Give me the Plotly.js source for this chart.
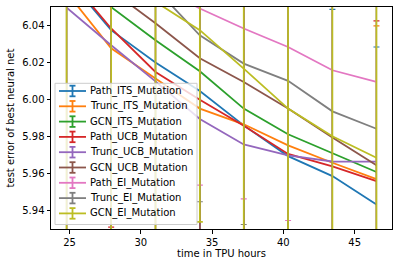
<!DOCTYPE html>
<html>
<head>
<meta charset="utf-8">
<script src="https://cdn.plot.ly/plotly-3.0.1.min.js"></script>
<style>html,body{margin:0;padding:0;background:#fff;}#chart{width:399px;height:267px;}</style>
</head>
<body>
<div id="chart"></div>
<script>
// ---- data ----
const hours = [24.79, 27.92, 31.03, 34.14, 37.22, 40.33, 43.44, 46.53];
const seriesNames = ["Path_ITS_Mutation", "Trunc_ITS_Mutation", "GCN_ITS_Mutation",
  "Path_UCB_Mutation", "Trunc_UCB_Mutation", "GCN_UCB_Mutation",
  "Path_EI_Mutation", "Trunc_EI_Mutation", "GCN_EI_Mutation"];
const pathITS  = [6.066, 6.0375, 6.0200, 6.0046, 5.9860, 5.9694, 5.9586, 5.9433];
const truncITS = [6.058, 6.0277, 6.0113, 5.9951, 5.9866, 5.9752, 5.9658, 5.9570];
const gcnITS   = [6.068, 6.0499, 6.0320, 6.0153, 5.9951, 5.9812, 5.9710, 5.9608];
const pathUCB  = [6.067, 6.0384, 6.0149, 5.9999, 5.9858, 5.9706, 5.9638, 5.9559];
const truncUCB = [6.0497, 6.0293, 6.0098, 5.9895, 5.9757, 5.9698, 5.9665, 5.9664];
const gcnUCB   = [6.075, 6.059, 6.0412, 6.0223, 6.0095, 5.9951, 5.9795, 5.9644];
const pathEI   = [6.085, 6.075, 6.062, 6.0492, 6.0384, 6.0284, 6.0158, 6.0095];
const truncEI  = [6.08, 6.072, 6.060, 6.0347, 6.0194, 6.0101, 5.9936, 5.9842];
const gcnEI    = [6.075, 6.065, 6.0528, 6.0375, 6.0167, 5.9951, 5.9801, 5.9685];
// error bar half-lengths
const errPathITS  = [0.15, 0.12, 0.11, 0.10, 0.10, 0.10, 0.0901, 0.0851];
const errTruncITS = [0.15, 0.11, 0.10, 0.10, 0.10, 0.10, 0.10, 0.0828];
const errGcnITS   = [0.15, 0.13, 0.0996, 0.10, 0.10, 0.10, 0.10, 0.10];
const errPathUCB  = [0.15, 0.1074, 0.10, 0.10, 0.10, 0.10, 0.10, 0.0866];
const errTruncUCB = [0.13, 0.11, 0.10, 0.10, 0.10, 0.10, 0.10, 0.10];
const errGcnUCB   = [0.16, 0.14, 0.13, 0.11, 0.10, 0.10, 0.10, 0.10];
const errPathEI   = [0.17, 0.16, 0.15, 0.0955, 0.0921, 0.0938, 0.11, 0.10];
const errTruncEI  = [0.17, 0.16, 0.15, 0.0900, 0.0870, 0.10, 0.10, 0.10];
const errGcnEI    = [0.17, 0.16, 0.14, 0.1036, 0.11, 0.10, 0.10, 0.10];
const xTitle = "time in TPU hours";
const yTitle = "test error of best neural net";

const values = [pathITS, truncITS, gcnITS, pathUCB, truncUCB, gcnUCB, pathEI, truncEI, gcnEI];
const errors = [errPathITS, errTruncITS, errGcnITS, errPathUCB, errTruncUCB, errGcnUCB, errPathEI, errTruncEI, errGcnEI];
const colors = ["#1f77b4", "#ff7f0e", "#2ca02c", "#d62728", "#9467bd", "#8c564b", "#e377c2", "#7f7f7f", "#bcbd22"];

const FONT = "DejaVu Sans, sans-serif";
const FS = 10;
const traces = seriesNames.map((n, i) => ({
  type: "scatter", mode: "lines", name: n,
  x: hours, y: values[i],
  line: {color: colors[i], width: 1.8},
  error_y: {type: "data", array: errors[i], symmetric: true, color: colors[i],
    thickness: i === 8 ? 1.7 : 1.1, width: 3},
  showlegend: false
}));

// manual legend (matplotlib style)
const L = 51, R = 392, T = 7, B = 229, W = R - L, H = B - T;
const px = x => (x - L) / W, py = y => (B - y) / H;
const shapes = [{type: "rect", xref: "paper", yref: "paper", x0: px(55), x1: px(197), y0: py(224.5), y1: py(83.3),
  line: {color: "#cccccc", width: 1}, fillcolor: "rgba(255,255,255,0.8)"}];
const annotations = [];
seriesNames.forEach((n, i) => {
  const yc = 91 + i * 15.3;
  const c = colors[i];
  const ln = {color: c, width: 1.8};
  shapes.push({type: "line", xref: "paper", yref: "paper", x0: px(59), x1: px(86), y0: py(yc), y1: py(yc), line: ln});
  shapes.push({type: "line", xref: "paper", yref: "paper", x0: px(72.5), x1: px(72.5), y0: py(yc - 5.3), y1: py(yc + 5.3), line: ln});
  shapes.push({type: "line", xref: "paper", yref: "paper", x0: px(69.5), x1: px(75.5), y0: py(yc - 5.3), y1: py(yc - 5.3), line: ln});
  shapes.push({type: "line", xref: "paper", yref: "paper", x0: px(69.5), x1: px(75.5), y0: py(yc + 5.3), y1: py(yc + 5.3), line: ln});
  annotations.push({xref: "paper", yref: "paper", x: px(88), y: py(yc), xanchor: "left", yanchor: "middle",
    text: n, showarrow: false, font: {family: FONT, size: FS, color: "#000"}});
});

const layout = {
  width: 399, height: 267,
  margin: {l: L, r: 399 - R, t: T, b: 267 - B},
  paper_bgcolor: "#fff", plot_bgcolor: "#fff",
  font: {family: FONT, size: FS, color: "#000"},
  showlegend: false,
  xaxis: {range: [23.70, 47.62], tickmode: "linear", tick0: 25, dtick: 5, ticks: "outside", ticklen: 3.5, tickwidth: 1,
    tickcolor: "#000", showline: true, linecolor: "#000", linewidth: 1, mirror: true, showgrid: false, zeroline: false,
    tickfont: {family: FONT, size: FS, color: "#000"},
    title: {text: xTitle, font: {family: FONT, size: FS, color: "#000"}, standoff: 3}},
  yaxis: {range: [5.93, 6.05], tickmode: "linear", tick0: 5.94, dtick: 0.02, tickformat: ".2f", ticks: "outside", ticklen: 3.5, tickwidth: 1,
    tickcolor: "#000", showline: true, linecolor: "#000", linewidth: 1, mirror: true, showgrid: false, zeroline: false,
    tickfont: {family: FONT, size: FS, color: "#000"},
    title: {text: yTitle, font: {family: FONT, size: FS, color: "#000"}, standoff: 5}},
  shapes: shapes,
  annotations: annotations
};
Plotly.newPlot("chart", traces, layout, {staticPlot: true, displayModeBar: false});
</script>
</body>
</html>
